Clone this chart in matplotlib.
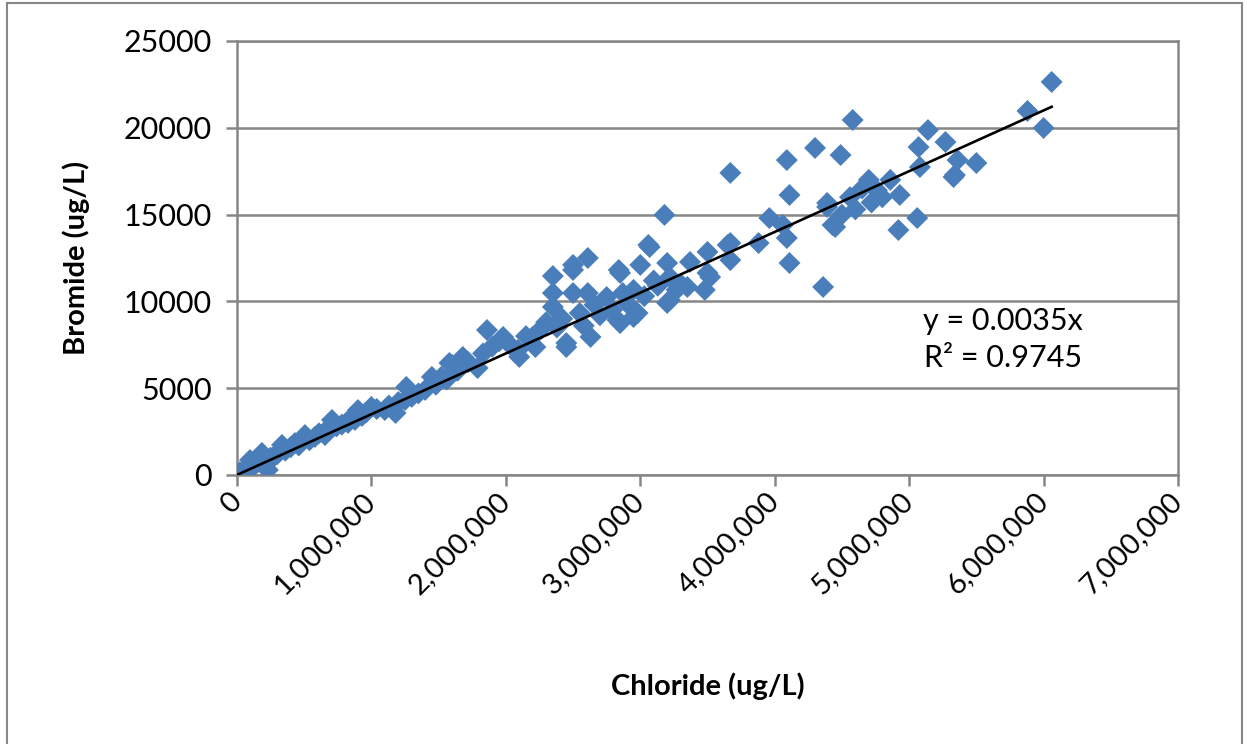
import matplotlib.pyplot as plt
from matplotlib.patches import Rectangle
from matplotlib.ticker import FuncFormatter, MultipleLocator
import numpy as np

plt.rcParams['font.family'] = ['Lato', 'DejaVu Sans']

# Chloride vs bromide, ug/L
chloride = [
    0, 10000, 20000, 35000, 50000, 70000, 97000, 120000, 150000, 186000,
    200000, 230000, 250000, 280000, 300000, 335000, 360000, 400000, 431000, 460000,
    506000, 540000, 580000, 610000, 655000, 680000, 707000, 740000, 780000, 826000,
    850000, 878000, 900000, 930000, 960000, 1000000, 1040000, 1100000, 1130000, 1180000,
    1200000, 1250000, 1260000, 1300000, 1350000, 1400000, 1450000, 1480000, 1520000, 1560000,
    1600000, 1580000, 1640000, 1680000, 1720000, 1790000, 1830000, 1860000, 1900000, 1950000,
    1980000, 2030000, 2090000, 2100000, 2150000, 2200000, 2220000, 2260000, 2300000, 2350000,
    2350000, 2350000, 2380000, 2420000, 2450000, 2450000, 2500000, 2500000, 2500000, 2550000,
    2580000, 2610000, 2610000, 2630000, 2660000, 2700000, 2750000, 2790000, 2830000, 2840000,
    2850000, 2850000, 2870000, 2900000, 2950000, 2950000, 2980000, 3000000, 3030000, 3060000,
    3070000, 3100000, 3130000, 3180000, 3200000, 3200000, 3220000, 3220000, 3270000, 3300000,
    3350000, 3370000, 3480000, 3500000, 3500000, 3520000, 3650000, 3670000, 3670000, 3670000,
    3880000, 3960000, 4060000, 4090000, 4090000, 4110000, 4110000, 4300000, 4360000, 4390000,
    4390000, 4430000, 4450000, 4490000, 4500000, 4560000, 4580000, 4600000, 4650000, 4700000,
    4720000, 4760000, 4800000, 4860000, 4920000, 4930000, 5060000, 5070000, 5080000, 5140000,
    5270000, 5330000, 5340000, 5360000, 5500000, 5880000, 6000000, 6060000,
]
bromide = [
    0, 60, 150, 100, 250, 300, 860, 500, 700, 1270,
    800, 290, 1000, 1100, 1200, 1730, 1400, 1600, 1840, 1700,
    2300, 2000, 2190, 2400, 2300, 2700, 3170, 2800, 2900, 3000,
    3300, 3170, 3740, 3400, 3600, 3920, 3800, 3740, 4000, 3570,
    4200, 4320, 5070, 4500, 4700, 4900, 5650, 5200, 5650, 5500,
    6340, 6450, 6000, 6800, 6500, 6160, 7000, 8350, 7400, 7700,
    7950, 7500, 7200, 6800, 8000, 7950, 7370, 8400, 8800, 9680,
    11460, 10480, 8500, 9000, 7600, 7370, 10480, 12100, 11810, 9330,
    8600, 10480, 12500, 7950, 9800, 9200, 10250, 9500, 8930, 11810,
    11640, 8750, 10480, 9900, 9100, 10660, 9330, 12100, 10300, 13250,
    13130, 11200, 10900, 14980, 12210, 9910, 11400, 10080, 10660, 11000,
    10830, 12270, 10660, 12850, 11640, 11400, 13250, 13360, 12380, 17400,
    13360, 14800, 14400, 13650, 18140, 16130, 12210, 18840, 10830, 15670,
    15440, 14400, 14285, 18430, 15000, 16000, 20450, 15300, 16500, 17000,
    15700, 16400, 16000, 17000, 14110, 16130, 14800, 18890, 17740, 19870,
    19180, 17165, 17280, 18140, 17970, 20970, 19990, 22640,
]
slope = 0.0035
r_squared = 0.9745

grid_gray = '#868686'

fig = plt.figure(figsize=(12.47, 7.44), dpi=100)
ax = fig.add_axes([0.190, 0.3616, 0.7547, 0.5833])

ax.scatter(chloride, bromide, marker='D', s=125, color='#4a7ebb',
           edgecolors='none', zorder=3)

# linear trendline forced through the origin
x_fit = np.array([min(chloride), max(chloride)])
ax.plot(x_fit, slope * x_fit, color='black', lw=1.9, zorder=4)

ax.text(5700000, 7800, f'y = {slope}x\nR² = {r_squared}', fontsize=22,
        ha='center', va='center', linespacing=1.4)

ax.set_xlim(0, 7000000)
ax.set_ylim(0, 25000)
ax.xaxis.set_major_locator(MultipleLocator(1000000))
ax.yaxis.set_major_locator(MultipleLocator(5000))
ax.xaxis.set_major_formatter(FuncFormatter(lambda v, p: f'{int(v):,}'))

ax.grid(axis='y', color=grid_gray, lw=1.8, zorder=0)
ax.set_axisbelow(True)
for s in ax.spines.values():
    s.set_color(grid_gray)
    s.set_linewidth(1.8)

ax.tick_params(axis='both', direction='out', color=grid_gray, width=1.8,
               labelsize=22, length=8, pad=10)
ax.tick_params(axis='x', labelsize=21, pad=8)
plt.setp(ax.get_xticklabels(), rotation=45, ha='right',
         rotation_mode='anchor', va='center')

ax.set_xlabel('Chloride (ug/L)', fontsize=21, fontweight='bold', labelpad=53)
ax.set_ylabel('Bromide (ug/L)', fontsize=21, fontweight='bold', labelpad=24)

# chart frame, bottom edge runs off the canvas
fig.patches.append(Rectangle((7 / 1247, -0.01), 1235 / 1247, 1.01 - 3 / 744,
                             transform=fig.transFigure, fill=False,
                             edgecolor=grid_gray, lw=1.5))

fig.savefig('out.png', dpi=100)
